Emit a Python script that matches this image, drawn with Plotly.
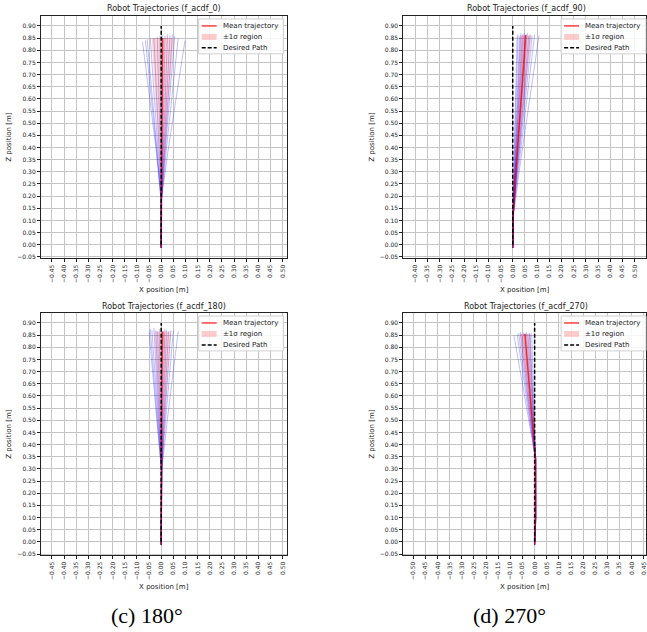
import plotly.graph_objects as go

# ---------------- data ----------------
PANEL_NAMES = ["f_acdf_0", "f_acdf_90", "f_acdf_180", "f_acdf_270"]
CAPTIONS = ["", "", "(c) 180°", "(d) 270°"]
SERIES_NAMES = ["Mean trajectory", "±1σ region", "Desired Path"]

# desired path (x, z)
DESIRED_X = [0.0, 0.0]
DESIRED_Z = [0.0, 0.90]

# ---- f_acdf_0 ----
Z_LEVELS_0 = [-0.012, 0.18, 0.40, 0.60]
TRAJ_X_0 = [
    [0.000, 0.000, -0.022, -0.046, -0.077],
    [0.000, 0.001, -0.020, -0.040, -0.065],
    [0.000, -0.001, -0.018, -0.036, -0.058],
    [0.000, 0.000, -0.014, -0.028, -0.045],
    [0.000, 0.001, -0.009, -0.018, -0.030],
    [0.000, 0.000, -0.004, -0.010, -0.016],
    [0.000, 0.001, -0.001, -0.003, -0.005],
    [0.000, 0.001, 0.003, 0.004, 0.006],
    [0.000, 0.001, 0.006, 0.010, 0.016],
    [0.000, 0.000, 0.009, 0.016, 0.026],
    [0.000, 0.001, 0.012, 0.023, 0.036],
    [0.000, 0.001, 0.015, 0.029, 0.046],
    [0.000, 0.000, 0.018, 0.035, 0.056],
    [0.000, 0.001, 0.022, 0.044, 0.070],
    [0.000, 0.000, 0.030, 0.061, 0.098],
]
TRAJ_ZTOP_0 = [0.835, 0.840, 0.845, 0.850, 0.850, 0.855, 0.860, 0.860,
               0.860, 0.865, 0.860, 0.865, 0.860, 0.850, 0.840]
MEAN_Z_0 = [-0.012, 0.18, 0.40, 0.60, 0.850]
MEAN_X_0 = [0.000, 0.001, 0.003, 0.005, 0.006]
STD_X_0 = [0.000, 0.002, 0.015, 0.028, 0.045]

# ---- f_acdf_90 ----
Z_LEVELS_90 = [-0.012, 0.12, 0.30, 0.55]
TRAJ_X_90 = [
    [0.000, 0.001, 0.004, 0.010, 0.018],
    [0.000, 0.000, 0.005, 0.013, 0.022],
    [0.000, 0.001, 0.007, 0.016, 0.028],
    [0.000, 0.002, 0.008, 0.019, 0.033],
    [0.000, 0.001, 0.009, 0.022, 0.038],
    [0.000, 0.001, 0.010, 0.024, 0.042],
    [0.000, 0.002, 0.011, 0.027, 0.047],
    [0.000, 0.001, 0.012, 0.030, 0.052],
    [0.000, 0.002, 0.013, 0.032, 0.056],
    [0.000, 0.001, 0.014, 0.035, 0.060],
    [0.000, 0.002, 0.016, 0.038, 0.066],
    [0.000, 0.002, 0.017, 0.042, 0.072],
    [0.000, 0.001, 0.019, 0.046, 0.080],
    [0.000, 0.002, 0.022, 0.052, 0.090],
    [0.000, 0.003, 0.026, 0.063, 0.108],
]
TRAJ_ZTOP_90 = [0.860, 0.865, 0.855, 0.870, 0.860, 0.865, 0.870, 0.860,
                0.865, 0.870, 0.860, 0.865, 0.860, 0.865, 0.862]
MEAN_Z_90 = [-0.012, 0.12, 0.30, 0.55, 0.862]
MEAN_X_90 = [0.000, 0.001, 0.013, 0.030, 0.053]
STD_X_90 = [0.000, 0.001, 0.006, 0.014, 0.024]

# ---- f_acdf_180 ----
Z_LEVELS_180 = [-0.012, 0.30, 0.50, 0.70]
TRAJ_X_180 = [
    [0.000, 0.001, -0.018, -0.035, -0.050],
    [0.000, 0.000, -0.016, -0.032, -0.045],
    [0.000, 0.001, -0.013, -0.027, -0.038],
    [0.000, 0.002, -0.011, -0.021, -0.030],
    [0.000, 0.000, -0.008, -0.015, -0.022],
    [0.000, 0.001, -0.005, -0.011, -0.015],
    [0.000, 0.001, -0.003, -0.006, -0.008],
    [0.000, 0.002, 0.000, 0.000, 0.000],
    [0.000, 0.001, 0.003, 0.006, 0.008],
    [0.000, 0.002, 0.005, 0.011, 0.015],
    [0.000, 0.001, 0.008, 0.015, 0.022],
    [0.000, 0.003, 0.011, 0.021, 0.030],
    [0.000, 0.002, 0.014, 0.028, 0.040],
    [0.000, 0.002, 0.018, 0.035, 0.050],
    [0.000, 0.003, 0.025, 0.049, 0.070],
]
TRAJ_ZTOP_180 = [0.865, 0.875, 0.870, 0.880, 0.870, 0.865, 0.875, 0.870,
                 0.865, 0.875, 0.870, 0.865, 0.870, 0.868, 0.865]
MEAN_Z_180 = [-0.012, 0.30, 0.50, 0.70, 0.865]
MEAN_X_180 = [0.000, 0.001, 0.002, 0.003, 0.006]
STD_X_180 = [0.000, 0.002, 0.013, 0.024, 0.034]

# ---- f_acdf_270 ----
Z_LEVELS_270 = [-0.012, 0.10, 0.34, 0.55]
TRAJ_X_270 = [
    [0.000, 0.004, 0.004, -0.034, -0.085],
    [0.000, 0.003, 0.003, -0.028, -0.072],
    [0.000, 0.005, 0.004, -0.025, -0.066],
    [0.000, 0.004, 0.003, -0.022, -0.059],
    [0.000, 0.004, 0.004, -0.019, -0.052],
    [0.000, 0.005, 0.005, -0.017, -0.046],
    [0.000, 0.003, 0.003, -0.014, -0.040],
    [0.000, 0.004, 0.004, -0.012, -0.034],
    [0.000, 0.005, 0.005, -0.009, -0.028],
    [0.000, 0.004, 0.004, -0.007, -0.022],
    [0.000, 0.003, 0.003, -0.005, -0.018],
    [0.000, 0.004, 0.004, -0.002, -0.012],
]
TRAJ_ZTOP_270 = [0.848, 0.852, 0.858, 0.862, 0.855, 0.860, 0.858, 0.862,
                 0.856, 0.860, 0.855, 0.858]
MEAN_Z_270 = [-0.012, 0.10, 0.34, 0.55, 0.855]
MEAN_X_270 = [0.000, 0.004, 0.004, -0.013, -0.040]
STD_X_270 = [0.000, 0.001, 0.002, 0.010, 0.022]

PANELS = [
    (Z_LEVELS_0, TRAJ_X_0, TRAJ_ZTOP_0, MEAN_Z_0, MEAN_X_0, STD_X_0),
    (Z_LEVELS_90, TRAJ_X_90, TRAJ_ZTOP_90, MEAN_Z_90, MEAN_X_90, STD_X_90),
    (Z_LEVELS_180, TRAJ_X_180, TRAJ_ZTOP_180, MEAN_Z_180, MEAN_X_180, STD_X_180),
    (Z_LEVELS_270, TRAJ_X_270, TRAJ_ZTOP_270, MEAN_Z_270, MEAN_X_270, STD_X_270),
]

# ---------------- layout geometry (page pixels) ----------------
W, H = 647, 632


def px(xp):
    return xp / W


def py(yp):
    return 1 - yp / H


# axes boxes: left, top, right, bottom
BOXES = [(41, 16, 287, 259), (404, 16, 650, 259),
         (41, 314, 287, 557), (404, 314, 650, 557)]
XRANGES = [[-0.495, 0.516], [-0.449, 0.547], [-0.495, 0.516], [-0.541, 0.459]]
YRANGE = [-0.055, 0.941]
TITLE_Y = [9, 9, 307, 307]
LEGEND_LEFT = [199, 562, 199, 562]
LEGEND_TOP = [19, 19, 317, 317]
CAPTION_X = [0, 0, 147, 510]
CAPTION_Y = 617

FONT = "DejaVu Sans"
TXT = "#222"
BLUE = "rgba(0,0,255,0.26)"
MEAN_COL = "rgba(255,0,0,0.75)"
BAND_COL = "rgba(255,0,0,0.16)"

fig = go.Figure()
shapes = []

for i, (zl, trajs, ztops, mz, mx, sx) in enumerate(PANELS):
    sfx = "" if i == 0 else str(i + 1)
    xa, ya = "x" + sfx, "y" + sfx
    for tx, zt in zip(trajs, ztops):
        fig.add_trace(go.Scatter(
            x=tx, y=zl + [zt], mode="lines", xaxis=xa, yaxis=ya,
            line=dict(color=BLUE, width=1), showlegend=False, hoverinfo="skip"))
    upper = [m + s for m, s in zip(mx, sx)]
    lower = [m - s for m, s in zip(mx, sx)]
    fig.add_trace(go.Scatter(
        x=upper + lower[::-1], y=mz + mz[::-1], mode="lines", fill="toself",
        fillcolor=BAND_COL, line=dict(width=0, color="rgba(255,0,0,0)"),
        xaxis=xa, yaxis=ya, name=SERIES_NAMES[1], showlegend=False))
    fig.add_trace(go.Scatter(
        x=mx, y=mz, mode="lines", xaxis=xa, yaxis=ya,
        line=dict(color=MEAN_COL, width=1.5), name=SERIES_NAMES[0], showlegend=False))
    fig.add_trace(go.Scatter(
        x=DESIRED_X, y=DESIRED_Z, mode="lines", xaxis=xa, yaxis=ya,
        line=dict(color="black", width=1.5, dash="4px,2px"),
        name=SERIES_NAMES[2], showlegend=False))

    l, t, r, b = BOXES[i]
    common = dict(showgrid=True, gridcolor="#c4c4c4", gridwidth=1,
                  zeroline=False, showline=True, linecolor=TXT, linewidth=1,
                  mirror=True, ticks="outside", ticklen=3, tickwidth=0.8,
                  tickcolor=TXT, tick0=0, dtick=0.05, tickformat=".2f",
                  tickfont=dict(family=FONT, size=6, color=TXT))
    fig.layout["xaxis" + sfx] = dict(
        common, domain=[px(l), min(px(r), 1.0)], range=XRANGES[i],
        anchor=ya, tickangle=-90,
        title=dict(text="X position [m]", font=dict(family=FONT, size=7, color=TXT),
                   standoff=5))
    fig.layout["yaxis" + sfx] = dict(
        common, domain=[py(b), py(t)], range=YRANGE, anchor=xa,
        title=dict(text="Z position [m]", font=dict(family=FONT, size=7, color=TXT),
                   standoff=4))
    fig.add_annotation(
        x=px((l + r) / 2), y=py(TITLE_Y[i]), xref="paper", yref="paper",
        text="Robot Trajectories (%s)" % PANEL_NAMES[i], showarrow=False,
        xanchor="center", yanchor="middle",
        font=dict(family=FONT, size=8, color=TXT))

    # legend box (drawn like the matplotlib legend)
    LL, LT = LEGEND_LEFT[i], LEGEND_TOP[i]
    shapes.append(dict(type="rect", xref="paper", yref="paper",
                       x0=px(LL), x1=px(LL + 85), y0=py(LT + 35), y1=py(LT),
                       line=dict(color="#d0d0d0", width=1),
                       fillcolor="rgba(255,255,255,0.85)", layer="above"))
    rows = [LT + 7, LT + 18, LT + 29]
    shapes.append(dict(type="line", xref="paper", yref="paper",
                       x0=px(LL + 3), x1=px(LL + 18), y0=py(rows[0]), y1=py(rows[0]),
                       line=dict(color=MEAN_COL, width=1.5), layer="above"))
    shapes.append(dict(type="rect", xref="paper", yref="paper",
                       x0=px(LL + 3), x1=px(LL + 18), y0=py(rows[1] + 3), y1=py(rows[1] - 3),
                       line=dict(width=0), fillcolor="rgba(255,0,0,0.2)", layer="above"))
    shapes.append(dict(type="line", xref="paper", yref="paper",
                       x0=px(LL + 3), x1=px(LL + 18), y0=py(rows[2]), y1=py(rows[2]),
                       line=dict(color="black", width=1.5, dash="4px,2px"), layer="above"))
    for name, yy in zip(SERIES_NAMES, rows):
        fig.add_annotation(
            x=px(LL + 22), y=py(yy), xref="paper", yref="paper", text=name,
            showarrow=False, xanchor="left", yanchor="middle",
            font=dict(family=FONT, size=7, color=TXT))

    if CAPTIONS[i]:
        fig.add_annotation(
            x=px(CAPTION_X[i]), y=py(CAPTION_Y), xref="paper", yref="paper",
            text=CAPTIONS[i], showarrow=False, xanchor="center", yanchor="middle",
            font=dict(family="Liberation Serif", size=22, color="black"))

fig.update_layout(width=W, height=H, margin=dict(l=0, r=0, t=0, b=0),
                  paper_bgcolor="white", plot_bgcolor="white", shapes=shapes,
                  showlegend=False)
fig.write_html("out.html",
               config={"displayModeBar": False},
               post_script="document.body.style.margin='0px';"
                           "document.body.style.overflow='hidden';")
